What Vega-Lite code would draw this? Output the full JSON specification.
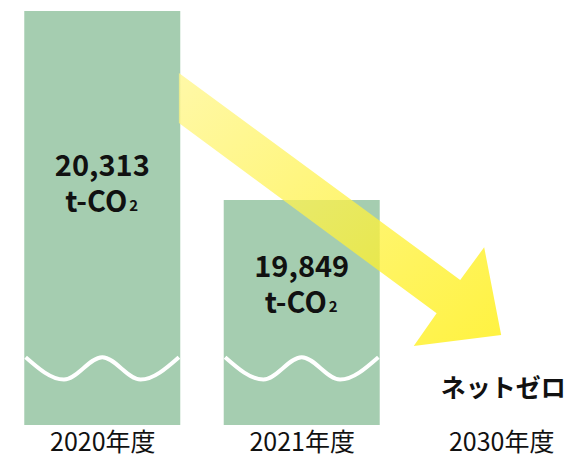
{
  "$schema": "https://vega.github.io/schema/vega-lite/v6.json",
  "width": 572,
  "height": 425,
  "autosize": {"type": "none"},
  "padding": {"left": 0, "right": 0, "top": 0, "bottom": 32},
  "background": "white",
  "config": {"view": {"stroke": null}, "font": "Noto Sans CJK JP"},
  "datasets": {
    "bars": [
      {"year": "2020年度", "idx": 0, "value": 20313, "unit": "t-CO", "sub": "2"},
      {"year": "2021年度", "idx": 1, "value": 19849, "unit": "t-CO", "sub": "2"}
    ],
    "waves": [
      {"bar": "2020", "x": -0.38424, "y": 19463, "i": 0},
      {"bar": "2020", "x": -0.19212, "y": 19408, "i": 1},
      {"bar": "2020", "x": 0.0, "y": 19463, "i": 2},
      {"bar": "2020", "x": 0.19212, "y": 19408, "i": 3},
      {"bar": "2020", "x": 0.38424, "y": 19463, "i": 4},
      {"bar": "2021", "x": 0.61576, "y": 19463, "i": 0},
      {"bar": "2021", "x": 0.80788, "y": 19408, "i": 1},
      {"bar": "2021", "x": 1.0, "y": 19463, "i": 2},
      {"bar": "2021", "x": 1.19212, "y": 19408, "i": 3},
      {"bar": "2021", "x": 1.38424, "y": 19463, "i": 4}
    ],
    "arrow": [
      {"i": 0, "x": 0.38424, "y": 20160.8},
      {"i": 1, "x": 1.7946, "y": 19652.6},
      {"i": 2, "x": 1.9148, "y": 19732.9},
      {"i": 3, "x": 2.0, "y": 19517.6},
      {"i": 4, "x": 1.5616, "y": 19490.6},
      {"i": 5, "x": 1.6764, "y": 19570.8},
      {"i": 6, "x": 0.38424, "y": 20038.0}
    ],
    "notes": [
      {"idx": 2, "value": 19385, "note": "ネットゼロ"}
    ]
  },
  "layer": [
    {
      "data": {"name": "bars"},
      "mark": {"type": "bar", "width": 156, "color": "#a5cdb0", "clip": true},
      "encoding": {
        "x": {
          "field": "idx", "type": "quantitative",
          "scale": {"domain": [-0.48768, 2.33005], "nice": false, "zero": false},
          "axis": {
            "values": [0, 1, 2],
            "labelExpr": "['2020年度','2021年度','2030年度'][datum.value]",
            "title": null, "domain": false, "ticks": false, "grid": false,
            "labelFontSize": 25, "labelColor": "#111111", "labelPadding": 5,
            "labelFont": "Noto Sans CJK JP", "labelFlush": false, "labelOverlap": false,
            "labelBound": false
          }
        },
        "y": {
          "field": "value", "type": "quantitative",
          "scale": {"domain": [19296.6, 20340.0], "nice": false, "zero": false},
          "axis": null
        }
      }
    },
    {
      "data": {"name": "waves"},
      "mark": {"type": "line", "interpolate": "monotone", "color": "white", "strokeWidth": 4},
      "encoding": {
        "x": {"field": "x", "type": "quantitative"},
        "y": {"field": "y", "type": "quantitative"},
        "detail": {"field": "bar"},
        "order": {"field": "i"}
      }
    },
    {
      "data": {"name": "arrow"},
      "mark": {
        "type": "line",
        "strokeWidth": 0,
        "fillOpacity": 0.75,
        "fill": {
          "gradient": "linear", "x1": 0, "y1": 0, "x2": 1, "y2": 1,
          "stops": [
            {"offset": 0, "color": "#fff68a"},
            {"offset": 1, "color": "#ffee00"}
          ]
        }
      },
      "encoding": {
        "x": {"field": "x", "type": "quantitative"},
        "y": {"field": "y", "type": "quantitative"},
        "order": {"field": "i"}
      }
    },
    {
      "data": {"name": "bars"},
      "transform": [{"filter": "datum.idx == 0"}],
      "mark": {"type": "text", "fontSize": 29, "fontWeight": "bold", "color": "#111111", "baseline": "alphabetic", "dy": 165},
      "encoding": {
        "x": {"field": "idx", "type": "quantitative"},
        "y": {"field": "value", "type": "quantitative"},
        "text": {"field": "value", "type": "quantitative", "format": ","}
      }
    },
    {
      "data": {"name": "bars"},
      "transform": [{"filter": "datum.idx == 0"}],
      "mark": {"type": "text", "fontSize": 29, "fontWeight": "bold", "color": "#111111", "baseline": "alphabetic", "align": "right", "dx": 25, "dy": 201},
      "encoding": {
        "x": {"field": "idx", "type": "quantitative"},
        "y": {"field": "value", "type": "quantitative"},
        "text": {"field": "unit"}
      }
    },
    {
      "data": {"name": "bars"},
      "transform": [{"filter": "datum.idx == 0"}],
      "mark": {"type": "text", "fontSize": 15, "fontWeight": "bold", "color": "#111111", "baseline": "alphabetic", "align": "left", "dx": 27, "dy": 200},
      "encoding": {
        "x": {"field": "idx", "type": "quantitative"},
        "y": {"field": "value", "type": "quantitative"},
        "text": {"field": "sub"}
      }
    },
    {
      "data": {"name": "bars"},
      "transform": [{"filter": "datum.idx == 1"}],
      "mark": {"type": "text", "fontSize": 29, "fontWeight": "bold", "color": "#111111", "baseline": "alphabetic", "dy": 77},
      "encoding": {
        "x": {"field": "idx", "type": "quantitative"},
        "y": {"field": "value", "type": "quantitative"},
        "text": {"field": "value", "type": "quantitative", "format": ","}
      }
    },
    {
      "data": {"name": "bars"},
      "transform": [{"filter": "datum.idx == 1"}],
      "mark": {"type": "text", "fontSize": 29, "fontWeight": "bold", "color": "#111111", "baseline": "alphabetic", "align": "right", "dx": 25, "dy": 113},
      "encoding": {
        "x": {"field": "idx", "type": "quantitative"},
        "y": {"field": "value", "type": "quantitative"},
        "text": {"field": "unit"}
      }
    },
    {
      "data": {"name": "bars"},
      "transform": [{"filter": "datum.idx == 1"}],
      "mark": {"type": "text", "fontSize": 15, "fontWeight": "bold", "color": "#111111", "baseline": "alphabetic", "align": "left", "dx": 27, "dy": 112},
      "encoding": {
        "x": {"field": "idx", "type": "quantitative"},
        "y": {"field": "value", "type": "quantitative"},
        "text": {"field": "sub"}
      }
    },
    {
      "data": {"name": "notes"},
      "mark": {"type": "text", "fontSize": 25, "fontWeight": "bold", "color": "#111111", "baseline": "middle", "dx": 2},
      "encoding": {
        "x": {"field": "idx", "type": "quantitative"},
        "y": {"field": "value", "type": "quantitative"},
        "text": {"field": "note"}
      }
    }
  ]
}
